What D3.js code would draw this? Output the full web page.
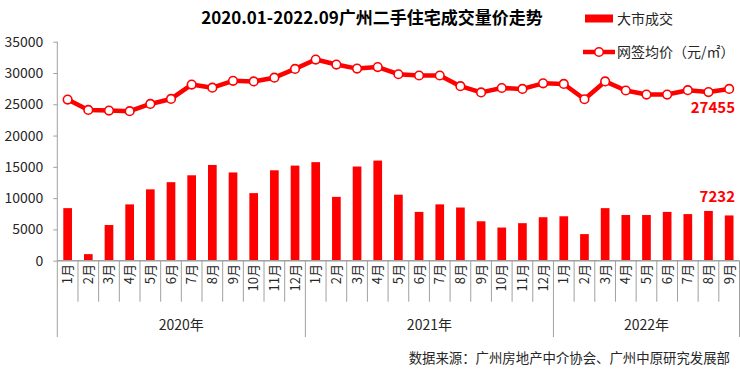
<!DOCTYPE html>
<html><head><meta charset="utf-8">
<script src="https://cdn.jsdelivr.net/npm/d3@7"></script>
<style>body{margin:0;background:#fff;}svg{display:block;font-family:"Noto Sans CJK SC","Noto Sans",sans-serif;}</style>
</head><body><svg id="c" width="740" height="380"></svg>
<script>
const months = ["1月","2月","3月","4月","5月","6月","7月","8月","9月","10月","11月","12月",
"1月","2月","3月","4月","5月","6月","7月","8月","9月","10月","11月","12月",
"1月","2月","3月","4月","5月","6月","7月","8月","9月"];
const years = ["2020年","2021年","2022年"];
const yearCounts = [12,12,9];
const volume = [8400,1050,5700,9000,11400,12550,13650,15300,14100,10800,14450,15200,
15750,10200,15050,16000,10550,7800,9000,8500,6300,5300,6000,6950,
7100,4250,8400,7300,7300,7800,7450,7950,7232];
const price = [25750,24100,24000,23900,25050,25850,28150,27650,28750,28650,29250,30650,
32150,31350,30700,30950,29800,29600,29600,27900,26900,27600,27450,28350,
28250,25800,28650,27200,26550,26550,27250,26950,27455];
const yTicks = [0,5000,10000,15000,20000,25000,30000,35000];
const title = "2020.01-2022.09广州二手住宅成交量价走势";
const legendNames = ["大市成交","网签均价（元/㎡）"];
const source = "数据来源：广州房地产中介协会、广州中原研究发展部";

const svg = d3.select("#c");
const red = "#FF0000", axisC = "#A0A0A0", txt = "#262626";
const x0 = 57.3, x1 = 739.5, yBase = 260.7;
const x = d3.scaleBand().domain(d3.range(months.length)).range([x0, x1]).padding(0);
const y = d3.scaleLinear().domain([0,35000]).range([yBase, 41.7]);
const bw = x.bandwidth()*0.42;

// bars
svg.append("g").selectAll("rect").data(volume).join("rect")
  .attr("x",(d,i)=>x(i)+x.bandwidth()/2-bw/2).attr("width",bw)
  .attr("y",d=>y(d)).attr("height",d=>yBase-y(d)).attr("fill",red);

// y axis
const ya = svg.append("g").attr("transform",`translate(${x0},0)`)
  .call(d3.axisLeft(y).tickValues(yTicks).tickSize(4).tickPadding(10).tickFormat(d3.format("d")));
ya.select(".domain").remove();
ya.selectAll(".tick line").attr("stroke",axisC);
ya.selectAll(".tick text").attr("font-size",14).attr("fill",txt).attr("font-family","'Noto Sans CJK SC',sans-serif");
svg.append("line").attr("x1",x0).attr("x2",x0).attr("y1",y(35000)).attr("y2",337).attr("stroke",axisC);

// x axis baseline
svg.append("line").attr("x1",x0).attr("x2",x1).attr("y1",yBase).attr("y2",yBase).attr("stroke",axisC).attr("stroke-width",1.5);
// category separators
const g = svg.append("g");
d3.range(1, months.length+1).forEach(i=>{
  const xx = i<months.length ? x(i) : x1;
  let cum=0, isYear=false;
  yearCounts.forEach(c=>{cum+=c; if(cum===i) isYear=true;});
  g.append("line").attr("x1",xx).attr("x2",xx).attr("y1",yBase).attr("y2",isYear?337:301.7).attr("stroke",axisC);
});
// month labels
svg.append("g").selectAll("text").data(months).join("text")
  .attr("transform",(d,i)=>`translate(${x(i)+x.bandwidth()/2+4.5},264) rotate(-90)`)
  .attr("text-anchor","end").attr("font-size",13).attr("fill",txt).text(d=>d);
// year labels
let start=0;
years.forEach((yr,k)=>{
  const a = x(start), b = start+yearCounts[k] < months.length ? x(start+yearCounts[k]) : x1;
  svg.append("text").attr("x",(a+b)/2).attr("y",330).attr("text-anchor","middle")
    .attr("font-size",14).attr("fill",txt).text(yr);
  start += yearCounts[k];
});

// line
const line = d3.line().x((d,i)=>x(i)+x.bandwidth()/2).y(d=>y(d));
svg.append("path").datum(price).attr("d",line).attr("fill","none").attr("stroke",red).attr("stroke-width",4.5).attr("stroke-linejoin","round");
svg.append("g").selectAll("circle").data(price).join("circle")
  .attr("cx",(d,i)=>x(i)+x.bandwidth()/2).attr("cy",d=>y(d)).attr("r",4.3)
  .attr("fill","#fff").attr("stroke",red).attr("stroke-width",1.6);

// data labels
const last = months.length-1;
svg.append("text").attr("x",735).attr("y",y(price[last])+24).attr("text-anchor","end")
  .attr("font-size",15).attr("font-weight","bold").attr("fill",red).text(price[last]);
svg.append("text").attr("x",735).attr("y",y(volume[last])-13).attr("text-anchor","end")
  .attr("font-size",15).attr("font-weight","bold").attr("fill",red).text(volume[last]);

// title
svg.append("text").attr("x",372).attr("y",23.5).attr("text-anchor","middle")
  .attr("font-size",17).attr("font-weight","bold").attr("fill","#000").text(title);

// legend
svg.append("rect").attr("x",585).attr("y",14.5).attr("width",28).attr("height",8).attr("fill",red);
svg.append("text").attr("x",617).attr("y",24).attr("font-size",14).attr("fill",txt).text(legendNames[0]);
svg.append("line").attr("x1",583).attr("x2",615).attr("y1",52).attr("y2",52).attr("stroke",red).attr("stroke-width",4.5);
svg.append("circle").attr("cx",599).attr("cy",52).attr("r",4.3).attr("fill","#fff").attr("stroke",red).attr("stroke-width",1.6);
svg.append("text").attr("x",617).attr("y",57).attr("font-size",14).attr("fill",txt).text(legendNames[1]);

// source
svg.append("text").attr("x",730).attr("y",363).attr("text-anchor","end").attr("font-size",13.4).attr("fill",txt).text(source);
</script></body></html>
